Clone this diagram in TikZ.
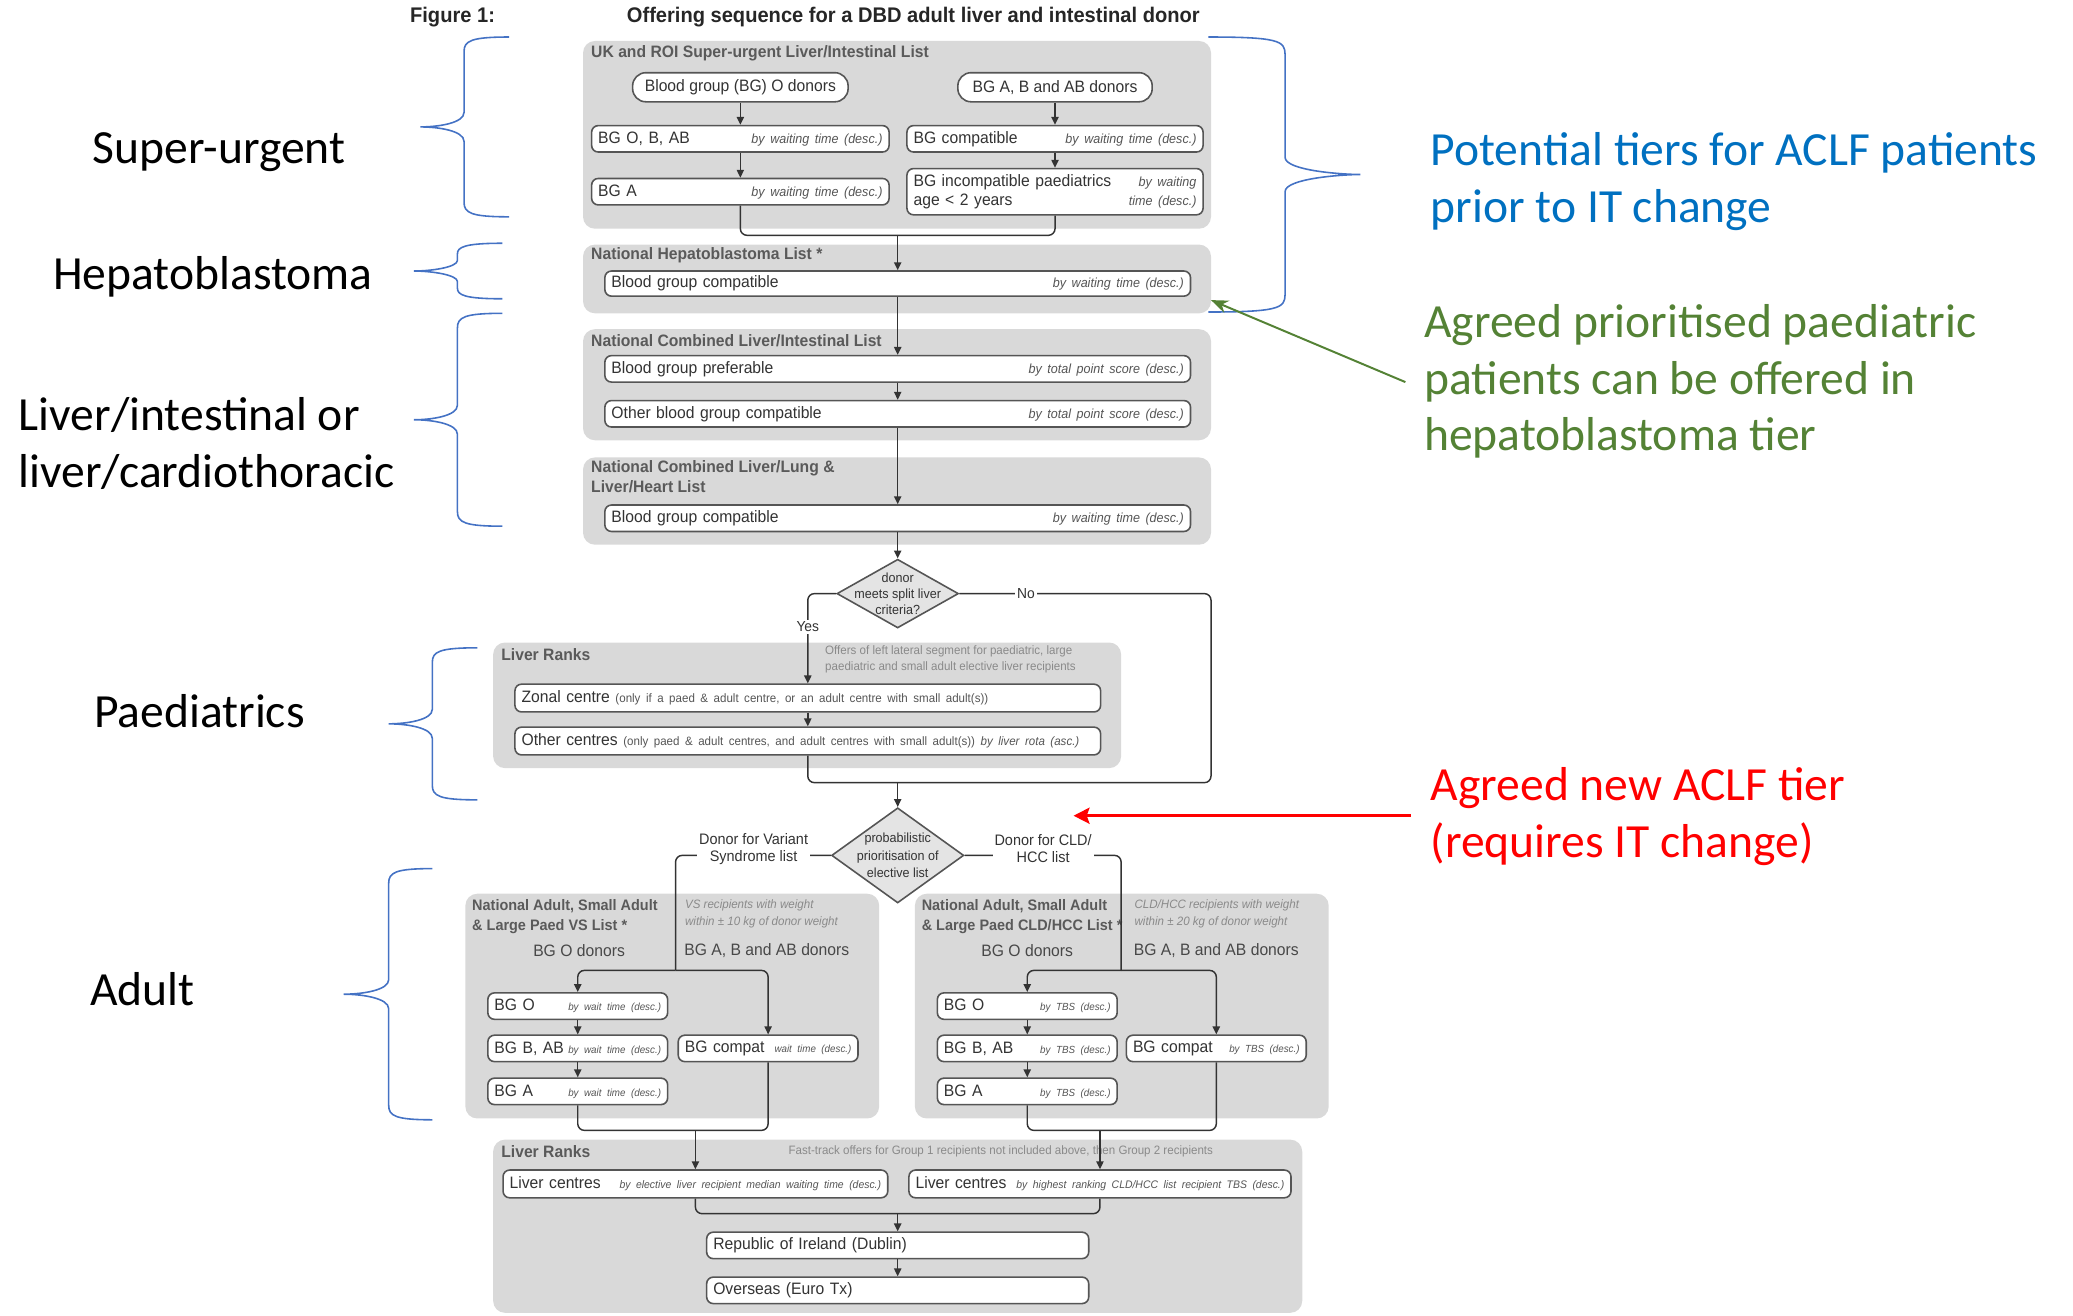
\documentclass[tikz,border=0pt]{standalone}
\usepackage{fontspec}
\usetikzlibrary{arrows.meta,shapes.geometric}
\newfontfamily\narf[FakeStretch=0.95]{Liberation Sans}
\newfontfamily\annfont{Carlito}
\definecolor{panelc}{HTML}{D9D9D9}
\definecolor{boxc}{HTML}{555555}
\definecolor{hdrc}{HTML}{5A5A5A}
\definecolor{txtc}{HTML}{333333}
\definecolor{itc}{HTML}{555555}
\definecolor{notec}{HTML}{8A8A8A}
\definecolor{linec}{HTML}{333333}
\definecolor{diaf}{HTML}{E4E4E4}
\definecolor{bracec}{HTML}{4472C4}
\definecolor{bluet}{HTML}{0070C0}
\definecolor{greent}{HTML}{548235}
\definecolor{redt}{HTML}{FF0000}
\newcommand\mainf{\narf\fontsize{12.5}{14}\selectfont}
\newcommand\smitA{\narf\itshape\fontsize{10}{11}\selectfont\color{itc}}
\newcommand\smitB{\narf\itshape\fontsize{7.8}{10}\selectfont\color{itc}}
\newcommand\smitC{\narf\itshape\fontsize{8.3}{10}\selectfont\color{itc}}
\newcommand\smP{\narf\fontsize{9.2}{11}\selectfont\color{itc}}
\newcommand\smitP{\narf\itshape\fontsize{9.2}{11}\selectfont\color{itc}}
\newcommand\lr[2]{\noindent\hbox to \hsize{#1\hfill#2}}
% #1 xe, #2 xs, #3 xt, #4 yt, #5 yb, #6 sign, #7 radius
\newcommand\mybrace[7]{%
 \draw[bracel] (#1,#4) .. controls ({#2+5*(#6)},#4) and (#2,{#4+3}) .. (#2,{#4+#7})
 -- (#2,{(#4+#5)/2-#7}) .. controls (#2,{(#4+#5)/2-3}) and ({#3+14*(#6)},{(#4+#5)/2}) .. (#3,{(#4+#5)/2})
 .. controls ({#3+14*(#6)},{(#4+#5)/2}) and (#2,{(#4+#5)/2+3}) .. (#2,{(#4+#5)/2+#7})
 -- (#2,{#5-#7}) .. controls (#2,{#5-3}) and ({#2+5*(#6)},#5) .. (#1,#5);}
\begin{document}
\begin{tikzpicture}[x=1pt,y=-1pt,
  panel/.style={fill=panelc, draw=none, rounded corners=9pt},
  hdr/.style={font=\narf\bfseries\fontsize{12.5}{15}\selectfont, text=hdrc, anchor=west, inner sep=0pt, align=left},
  hdrs/.style={font=\narf\bfseries\fontsize{11.5}{15}\selectfont, text=hdrc, anchor=north west, inner sep=0pt, align=left},
  box/.style={draw=boxc, fill=white, rounded corners=5pt, line width=1.2pt, inner xsep=5pt, inner ysep=0pt, font=\mainf, align=left, text=txtc},
  pill/.style={draw=boxc, fill=white, rounded corners=10pt, line width=1.2pt, minimum height=22pt, inner sep=0pt, font=\mainf, text=txtc},
  conn/.style={draw=linec, line width=1.1pt, rounded corners=5pt},
  arr/.style={conn, -{Triangle[length=6pt,width=5.5pt]}},
  dia/.style={diamond, draw=boxc, fill=diaf, line width=1.2pt, inner sep=0pt},
  dtext/.style={font=\narf\fontsize{10}{12}\selectfont, text=txtc, align=center, inner sep=0pt},
  lbl/.style={font=\narf\fontsize{11.5}{13}\selectfont, text=txtc, fill=white, inner sep=1.5pt, align=center},
  note/.style={font=\narf\fontsize{9.2}{12.5}\selectfont, text=notec, inner sep=0pt, align=left},
  noteit/.style={font=\narf\itshape\fontsize{9.2}{13}\selectfont, text=notec, inner sep=0pt, align=left, anchor=north west},
  sub/.style={font=\mainf, text=hdrc!80!black, inner sep=0pt},
  ann/.style={font=\annfont\fontsize{36}{43}\selectfont, inner sep=0pt, anchor=west, align=left},
  bracel/.style={draw=bracec, line width=1.2pt},
]
\useasboundingbox (0,0) rectangle (1568,995);

% ---------- title
\node[font=\narf\bfseries\fontsize{16}{18}\selectfont, anchor=west, inner sep=0pt, text=black!85] (fig) at (310,13) {Figure 1:};
\node[font=\narf\bfseries\fontsize{16}{18}\selectfont, anchor=west, inner sep=0pt, text=black!85] (title) at (474,13) {Offering sequence for a DBD adult liver and intestinal donor};

% ---------- panels
\fill[panel] (441,31) rectangle (916,173);
\fill[panel] (441,185) rectangle (916,237);
\fill[panel] (441,249) rectangle (916,333);
\fill[panel] (441,346) rectangle (916,412);
\fill[panel] (373,486) rectangle (848,581);
\fill[panel] (352,676) rectangle (665,846);
\fill[panel] (692,676) rectangle (1005,846);
\fill[panel] (373,862) rectangle (985,993);

% ---------- headers
\node[hdr] (h1) at (447,40) {UK and ROI Super-urgent Liver/Intestinal List};
\node[hdr] (h2) at (447,193) {National Hepatoblastoma List *};
\node[hdr] (h3) at (447,258) {National Combined Liver/Intestinal List};
\node[hdr, anchor=north west] (h4) at (447,348) {National Combined Liver/Lung \&\\Liver/Heart List};
\node[hdr] (h5) at (379,495) {Liver Ranks};
\node[hdrs] (h6) at (357,680) {National Adult, Small Adult\\\& Large Paed VS List *};
\node[hdrs] (h7) at (697,680) {National Adult, Small Adult\\\& Large Paed CLD/HCC List *};
\node[hdr] (h8) at (379,871) {Liver Ranks};

% ---------- notes
\node[note, anchor=north west] (n1) at (624,488) {Offers of left lateral segment for paediatric, large\\paediatric and small adult elective liver recipients};
\node[note] (n2) at (757,871) {Fast-track offers for Group 1 recipients not included above, then Group 2 recipients};
\node[noteit] (n3) at (518,680) {VS recipients with weight\\within ± 10 kg of donor weight};
\node[noteit] (n4) at (858,680) {CLD/HCC recipients with weight\\within ± 20 kg of donor weight};
\node[sub] (bl1) at (438,719) {BG O donors};
\node[sub] (bl2) at (580,719) {BG A, B and AB donors};
\node[sub] (br1) at (777,719) {BG O donors};
\node[sub] (br2) at (920,719) {BG A, B and AB donors};

% ---------- super-urgent
\node[pill, minimum width=163pt] (p1) at (560,66) {Blood group (BG) O donors};
\node[pill, minimum width=147pt] (p2) at (798,66) {BG A, B and AB donors};
\node[box, text width=215pt, minimum height=20pt] (b1) at (560,105) {\lr{BG O, B, AB}{\smitA by waiting time (desc.)}};
\node[box, text width=215pt, minimum height=20pt] (b2) at (560,145) {\lr{BG A}{\smitA by waiting time (desc.)}};
\node[box, text width=214pt, minimum height=20pt] (b3) at (798,105) {\lr{BG compatible}{\smitA by waiting time (desc.)}};
\node[box, text width=214pt, minimum height=35pt] (b4) at (798,145) {BG incompatible paediatrics\hfill{\smitA by waiting}\\age < 2 years\hfill{\smitA time (desc.)}};
\coordinate (mU) at (679,178);

% ---------- hepatoblastoma, combined lists
\node[box, text width=433pt, minimum height=19pt] (hb) at (679,214.5) {\lr{Blood group compatible}{\smitA by waiting time (desc.)}};
\node[box, text width=433pt, minimum height=20pt] (li1) at (679,279) {\lr{Blood group preferable}{\smitA by total point score (desc.)}};
\node[box, text width=433pt, minimum height=20pt] (li2) at (679,313) {\lr{Other blood group compatible}{\smitA by total point score (desc.)}};
\node[box, text width=433pt, minimum height=20pt] (lh) at (679,392) {\lr{Blood group compatible}{\smitA by waiting time (desc.)}};

% ---------- split-liver diamond and paediatric ranks
\node[dia, minimum width=92pt, minimum height=52pt] (d1) at (679,449) {};
\node[dtext] (d1t) at (679,449) {donor\\meets split liver\\criteria?};
\node[box, text width=433pt, minimum height=21pt] (zc) at (611,528) {\lr{Zonal centre {\smP (only if a paed \& adult centre, or an adult centre with small adult(s))}}{}};
\node[box, text width=433pt, minimum height=21pt] (oc) at (611,560.5) {\lr{Other centres {\smP (only paed \& adult centres, and adult centres with small adult(s))} {\smitP by liver rota (asc.)}}{}};
\coordinate (bR) at (916,592);
\coordinate (bM) at (679,592);

% ---------- probabilistic diamond and adult lists
\node[dia, minimum width=100pt, minimum height=72pt] (d2) at (679,647) {};
\node[dtext, font=\narf\fontsize{10}{13}\selectfont] (d2t) at (679,647) {probabilistic\\prioritisation of\\elective list};
\coordinate (sL) at (511,734);
\coordinate (sR) at (848,734);
\node[box, text width=126pt, minimum height=20pt] (aL1) at (437,761) {\lr{BG O}{\smitB by wait time (desc.)}};
\node[box, text width=126pt, minimum height=20pt] (aL2) at (437,793) {\lr{BG B, AB}{\smitB by wait time (desc.)}};
\node[box, text width=126pt, minimum height=20pt] (aL3) at (437,825.5) {\lr{BG A}{\smitB by wait time (desc.)}};
\node[box, text width=126pt, minimum height=20pt] (aL4) at (581,793) {\lr{BG compat}{\smitB wait time (desc.)}};
\node[box, text width=126pt, minimum height=20pt] (aR1) at (777,761) {\lr{BG O}{\smitB by TBS (desc.)}};
\node[box, text width=126pt, minimum height=20pt] (aR2) at (777,793) {\lr{BG B, AB}{\smitB by TBS (desc.)}};
\node[box, text width=126pt, minimum height=20pt] (aR3) at (777,825.5) {\lr{BG A}{\smitB by TBS (desc.)}};
\node[box, text width=126pt, minimum height=20pt] (aR4) at (920,793) {\lr{BG compat}{\smitB by TBS (desc.)}};
\coordinate (mL) at (526,855);
\coordinate (mR) at (832,855);

% ---------- final liver ranks
\node[box, text width=281pt, minimum height=21pt] (lc1) at (526,895.5) {\lr{Liver centres}{\smitC by elective liver recipient median waiting time (desc.)}};
\node[box, text width=279pt, minimum height=21pt] (lc2) at (832,895.5) {\lr{Liver centres}{\smitC by highest ranking CLD/HCC list recipient TBS (desc.)}};
\coordinate (mB) at (679,918);
\node[box, text width=279pt, minimum height=20pt] (roi) at (679,942) {Republic of Ireland (Dublin)};
\node[box, text width=279pt, minimum height=20pt] (ov) at (679,976) {Overseas (Euro Tx)};

% ---------- connectors
\draw[arr] (p1.south) -- (b1.north);
\draw[arr] (b1.south) -- (b2.north);
\draw[arr] (p2.south) -- (b3.north);
\draw[arr] (b3.south) -- (b4.north);
\draw[conn] (b2.south) |- (mU) -| (b4.south);
\draw[arr] (mU) -- (hb.north);
\draw[arr] (hb.south) -- (li1.north);
\draw[arr] (li1.south) -- (li2.north);
\draw[arr] (li2.south) -- (lh.north);
\draw[arr] (lh.south) -- (d1.north);
\draw[arr] (d1.west) -| (zc.north);
\draw[arr] (zc.south) -- (oc.north);
\draw[conn] (oc.south) |- (bR) |- (d1.east);
\draw[arr] (bM) -- (d2.north);
\draw[conn] (d2.west) -| (sL);
\draw[arr] (sL) -| (aL1.north);
\draw[arr] (sL) -| (aL4.north);
\draw[arr] (aL1.south) -- (aL2.north);
\draw[arr] (aL2.south) -- (aL3.north);
\draw[conn] (aL3.south) |- (mL) -| (aL4.south);
\draw[arr] (mL) -- (lc1.north);
\draw[conn] (d2.east) -| (sR);
\draw[arr] (sR) -| (aR1.north);
\draw[arr] (sR) -| (aR4.north);
\draw[arr] (aR1.south) -- (aR2.north);
\draw[arr] (aR2.south) -- (aR3.north);
\draw[conn] (aR3.south) |- (mR) -| (aR4.south);
\draw[arr] (mR) -- (lc2.north);
\draw[conn] (lc1.south) |- (mB) -| (lc2.south);
\draw[arr] (mB) -- (roi.north);
\draw[arr] (roi.south) -- (ov.north);

% ---------- connector labels
\node[lbl, font=\narf\fontsize{11}{13}\selectfont] (yes) at (611,474) {Yes};
\node[lbl, font=\narf\fontsize{11}{13}\selectfont] (no) at (776,449) {No};
\node[lbl] (vs) at (570,642) {Donor for Variant\\Syndrome list};
\node[lbl] (cld) at (789,642) {Donor for CLD/\\HCC list};

% ---------- left annotation labels and braces
\node[ann] (lab1) at (70,115) {Super-urgent};
\node[ann] (lab2) at (40,209) {Hepatoblastoma};
\node[ann] (lab3) at (14,335.5) {Liver/intestinal or\\liver/cardiothoracic};
\node[ann] (lab4) at (71,538) {Paediatrics};
\node[ann] (lab5) at (68,748) {Adult};
\mybrace{385}{351}{318}{28}{164}{1}{11}
\mybrace{380}{346}{313}{184}{226}{1}{8}
\mybrace{380}{346}{313}{237}{398}{1}{11}
\mybrace{361}{327}{294}{490}{605}{1}{11}
\mybrace{327}{294}{260}{657}{847}{1}{11}
\mybrace{914}{972}{1029}{28}{236}{-1}{13}

% ---------- right annotations
\node[ann, text=bluet] (ann1) at (1082,137.5) {Potential tiers for ACLF patients\\prior to IT change};
\node[ann, text=greent] (ann2) at (1077,288.5) {Agreed prioritised paediatric\\patients can be offered in\\hepatoblastoma tier};
\node[ann, text=redt] (ann3) at (1082,617.5) {Agreed new ACLF tier\\(requires IT change)};
\coordinate (gtail) at (1063,289);
\coordinate (ghead) at (916,227);
\draw[draw=greent, line width=1.5pt, -{Stealth[length=13pt,width=10pt]}] (gtail) -- (ghead);
\coordinate (rtail) at (1067,617);
\coordinate (rhead) at (812,617);
\draw[draw=redt, line width=2.6pt, -{Stealth[length=12pt,width=12pt,inset=2pt]}] (rtail) -- (rhead);
\end{tikzpicture}
\end{document}
